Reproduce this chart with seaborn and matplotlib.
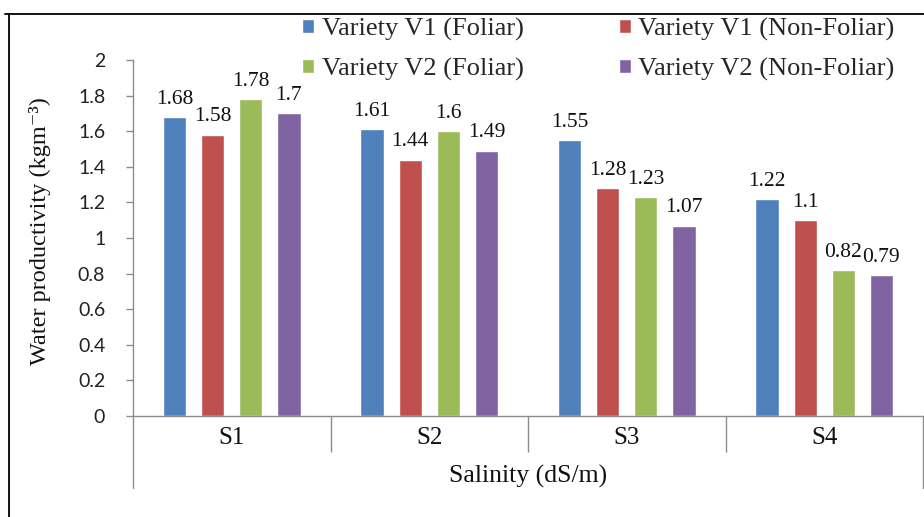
import matplotlib
matplotlib.use("Agg")
import matplotlib.pyplot as plt
from matplotlib.lines import Line2D
import seaborn as sns
import pandas as pd

# Water productivity by salinity level and treatment
salinity = ["S1", "S2", "S3", "S4"]
treatments = ["Variety V1 (Foliar)", "Variety V1 (Non-Foliar)",
              "Variety V2 (Foliar)", "Variety V2 (Non-Foliar)"]
v1_foliar = [1.68, 1.61, 1.55, 1.22]
v1_non_foliar = [1.58, 1.44, 1.28, 1.10]
v2_foliar = [1.78, 1.60, 1.23, 0.82]
v2_non_foliar = [1.70, 1.49, 1.07, 0.79]
y_ticks = [0, 0.2, 0.4, 0.6, 0.8, 1, 1.2, 1.4, 1.6, 1.8, 2]

colors = ["#4F81BD", "#C0504D", "#9BBB59", "#8064A2"]

rows = []
for name, vals in zip(treatments, [v1_foliar, v1_non_foliar, v2_foliar, v2_non_foliar]):
    for s, v in zip(salinity, vals):
        rows.append({"Salinity": s, "Treatment": name, "WP": v})
df = pd.DataFrame(rows)

sns.set_theme(style="white")
serif = ["Liberation Serif", "DejaVu Serif"]
plt.rcParams["font.family"] = serif

W, H = 924, 517
fig = plt.figure(figsize=(W / 100, H / 100), dpi=100)
ax = fig.add_axes([133 / W, (H - 416) / H, (923 - 133) / W, (416 - 60) / H])

sns.barplot(data=df, x="Salinity", y="WP", hue="Treatment",
            order=salinity, hue_order=treatments, palette=colors,
            width=0.772, gap=0.39, saturation=1, errorbar=None, ax=ax)

# value labels on top of each bar
for cont in ax.containers:
    ax.bar_label(cont, labels=[f"{v:g}" for v in cont.datavalues],
                 padding=6, fontsize=15.5, family=serif, color="#111111")

axis_gray = "#8c8c8c"
ax.set_xlim(-0.5, 3.5)
ax.set_ylim(0, 2)
ax.set_yticks(y_ticks)
ax.set_yticklabels([f"{t:g}" for t in y_ticks], family=["Lato", "DejaVu Sans"],
                   fontsize=14, color="#222222")
ax.tick_params(axis="y", direction="out", length=5, width=1, color=axis_gray,
               left=True, pad=15)

# category labels with separators between groups
ax.set_xticks(range(len(salinity)))
ax.set_xticklabels(salinity, fontsize=18, color="#111111")
ax.set_xticks([0.5, 1.5, 2.5], minor=True)
ax.tick_params(axis="x", which="major", length=0, pad=8)
ax.tick_params(axis="x", which="minor", direction="out", length=26, width=1,
               color=axis_gray, bottom=True)

for side in ["top", "right"]:
    ax.spines[side].set_visible(False)
for side in ["left", "bottom"]:
    ax.spines[side].set_color(axis_gray)
    ax.spines[side].set_linewidth(1)

# outer vertical lines of the category axis
for xa in (0.0, 1.0):
    ax.add_line(Line2D([xa, xa], [0, -72 / 356], transform=ax.transAxes,
                       color=axis_gray, lw=1, clip_on=False))

ax.set_xlabel("Salinity (dS/m)", fontsize=18.5, color="#111111")
ax.xaxis.set_label_coords(0.5, -0.136)
ax.set_ylabel("Water productivity (kgm\u207b\u00b3)", fontsize=17.5,
              color="#111111", family=serif)
ax.yaxis.set_label_coords(-0.104, 0.52)

# legend in two columns above the plot
leg = ax.get_legend()
handles = leg.legend_handles
labels = [t.get_text() for t in leg.get_texts()]
leg.remove()
order = [0, 2, 1, 3]
fig.legend([handles[i] for i in order], [labels[i] for i in order],
           ncol=2, loc="upper left", bbox_to_anchor=(302 / W, 1 - 18 / H),
           frameon=False, fontsize=19, handlelength=0.45, handleheight=0.45,
           handletextpad=0.3, columnspacing=3.6, labelspacing=0.62,
           borderpad=0, borderaxespad=0)

# chart border
fig.add_artist(Line2D([5 / W, 1.0], [1 - 14 / H, 1 - 14 / H],
                      transform=fig.transFigure, color="#000000", lw=1.3))
fig.add_artist(Line2D([9 / W, 9 / W], [1 - 14 / H, 0],
                      transform=fig.transFigure, color="#000000", lw=1.3))

fig.savefig("out.png", dpi=100)
